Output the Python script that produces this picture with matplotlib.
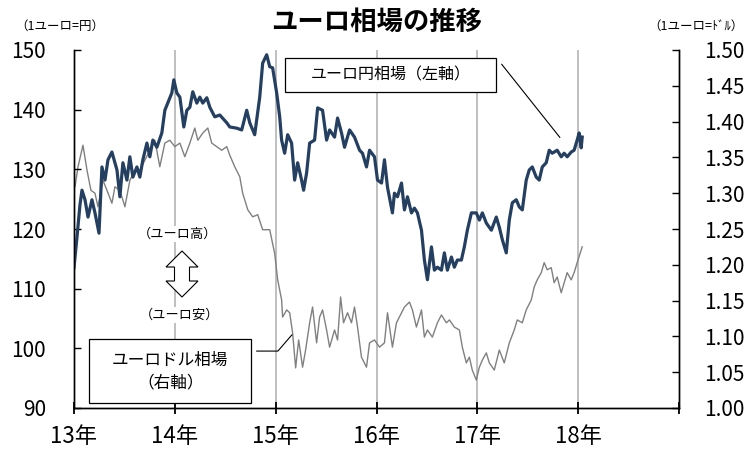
import matplotlib
matplotlib.use("Agg")
import matplotlib.pyplot as plt
from matplotlib.patches import Rectangle, Polygon
from matplotlib.lines import Line2D

plt.rcParams['font.family'] = ['Noto Sans CJK JP', 'DejaVu Sans']

# ---- data (decimal year, value) ----
jpy_dates = [2013.000, 2013.030, 2013.059, 2013.079, 2013.109, 2013.139, 2013.178, 2013.208, 2013.248, 2013.277,
             2013.307, 2013.337, 2013.376, 2013.426, 2013.455, 2013.485, 2013.525, 2013.554, 2013.584, 2013.624,
             2013.653, 2013.683, 2013.723, 2013.752, 2013.782, 2013.822, 2013.871, 2013.901, 2013.941, 2013.970,
             2013.990, 2014.020, 2014.050, 2014.089, 2014.119, 2014.149, 2014.178, 2014.218, 2014.248, 2014.277,
             2014.317, 2014.347, 2014.396, 2014.446, 2014.515, 2014.545, 2014.614, 2014.663, 2014.713, 2014.743,
             2014.792, 2014.842, 2014.871, 2014.911, 2014.941, 2014.970, 2015.010, 2015.040, 2015.059, 2015.089,
             2015.119, 2015.158, 2015.188, 2015.218, 2015.257, 2015.277, 2015.307, 2015.337, 2015.386, 2015.416,
             2015.465, 2015.505, 2015.535, 2015.584, 2015.614, 2015.653, 2015.683, 2015.733, 2015.782, 2015.832,
             2015.861, 2015.901, 2015.931, 2015.980, 2016.010, 2016.050, 2016.079, 2016.109, 2016.158, 2016.178,
             2016.208, 2016.248, 2016.277, 2016.307, 2016.347, 2016.376, 2016.406, 2016.446, 2016.475, 2016.505,
             2016.545, 2016.574, 2016.604, 2016.644, 2016.673, 2016.703, 2016.743, 2016.772, 2016.802, 2016.842,
             2016.871, 2016.901, 2016.941, 2016.990, 2017.020, 2017.050, 2017.089, 2017.139, 2017.188, 2017.218,
             2017.248, 2017.287, 2017.317, 2017.347, 2017.386, 2017.416, 2017.446, 2017.485, 2017.515, 2017.545,
             2017.584, 2017.614, 2017.644, 2017.683, 2017.713, 2017.743, 2017.792, 2017.832, 2017.861, 2017.891,
             2017.931, 2017.960, 2017.990, 2018.010, 2018.030, 2018.040]
jpy_values = [113.5, 118.7, 124.0, 126.5, 124.9, 122.0, 124.9, 122.7, 119.3, 130.4,
              128.2, 131.6, 132.9, 129.9, 125.4, 131.1, 128.2, 132.1, 128.7, 130.4,
              128.7, 131.6, 134.4, 132.1, 134.9, 133.7, 136.1, 139.9, 141.6, 142.8,
              145.0, 142.8, 142.1, 137.1, 139.9, 140.4, 143.0, 141.1, 142.1, 141.1,
              142.0, 140.4, 138.8, 139.1, 137.8, 137.1, 136.9, 136.6, 139.9, 137.8,
              135.8, 142.1, 147.8, 149.2, 147.2, 147.0, 142.8, 138.8, 134.9, 132.7,
              135.8, 134.4, 128.2, 131.1, 128.2, 126.5, 129.4, 134.4, 134.9, 140.3,
              139.9, 134.9, 136.6, 135.4, 138.6, 136.1, 133.7, 136.6, 135.4, 133.2,
              132.7, 130.4, 133.2, 132.1, 128.2, 127.7, 131.6, 127.0, 122.7, 126.0,
              125.4, 127.7, 123.2, 125.4, 122.7, 123.5, 122.7, 119.8, 114.8, 111.5,
              117.0, 113.1, 113.6, 113.1, 116.0, 113.1, 115.3, 113.6, 114.8, 114.8,
              117.0, 119.8, 122.7, 122.7, 121.5, 122.7, 121.0, 119.8, 122.0, 120.3,
              118.2, 116.0, 121.5, 124.4, 124.9, 123.7, 123.2, 128.2, 129.9, 130.4,
              128.7, 128.2, 130.4, 131.1, 133.2, 132.7, 133.2, 132.1, 132.7, 132.1,
              132.9, 133.2, 134.9, 136.1, 133.6, 135.4]

usd_dates = [2013.000, 2013.010, 2013.040, 2013.089, 2013.129, 2013.168, 2013.208, 2013.238, 2013.287, 2013.327,
             2013.376, 2013.406, 2013.455, 2013.505, 2013.554, 2013.604, 2013.653, 2013.703, 2013.752, 2013.802,
             2013.851, 2013.901, 2013.950, 2014.000, 2014.050, 2014.099, 2014.149, 2014.198, 2014.228, 2014.277,
             2014.327, 2014.366, 2014.416, 2014.465, 2014.515, 2014.545, 2014.594, 2014.644, 2014.673, 2014.723,
             2014.772, 2014.822, 2014.871, 2014.941, 2014.990, 2015.020, 2015.059, 2015.069, 2015.109, 2015.139,
             2015.168, 2015.198, 2015.228, 2015.267, 2015.297, 2015.337, 2015.366, 2015.406, 2015.436, 2015.465,
             2015.505, 2015.535, 2015.584, 2015.614, 2015.644, 2015.673, 2015.713, 2015.752, 2015.782, 2015.812,
             2015.851, 2015.901, 2015.931, 2015.980, 2016.030, 2016.079, 2016.109, 2016.158, 2016.198, 2016.248,
             2016.277, 2016.327, 2016.356, 2016.396, 2016.446, 2016.475, 2016.505, 2016.554, 2016.604, 2016.644,
             2016.693, 2016.723, 2016.772, 2016.822, 2016.851, 2016.891, 2016.921, 2016.950, 2016.990, 2017.020,
             2017.050, 2017.089, 2017.119, 2017.168, 2017.218, 2017.267, 2017.317, 2017.366, 2017.396, 2017.446,
             2017.485, 2017.535, 2017.564, 2017.594, 2017.634, 2017.663, 2017.693, 2017.733, 2017.762, 2017.792,
             2017.832, 2017.861, 2017.891, 2017.931, 2017.960, 2017.990, 2018.030, 2018.040]
usd_values = [1.318, 1.309, 1.337, 1.367, 1.332, 1.304, 1.300, 1.281, 1.318, 1.304,
              1.286, 1.309, 1.304, 1.281, 1.318, 1.332, 1.332, 1.346, 1.360, 1.374,
              1.337, 1.370, 1.374, 1.365, 1.370, 1.351, 1.370, 1.391, 1.374, 1.384,
              1.391, 1.370, 1.365, 1.360, 1.365, 1.353, 1.337, 1.323, 1.300, 1.277,
              1.267, 1.270, 1.249, 1.249, 1.216, 1.179, 1.151, 1.127, 1.137, 1.133,
              1.105, 1.056, 1.095, 1.057, 1.081, 1.119, 1.141, 1.091, 1.127, 1.137,
              1.109, 1.085, 1.109, 1.095, 1.155, 1.119, 1.133, 1.119, 1.141, 1.113,
              1.071, 1.057, 1.091, 1.095, 1.085, 1.091, 1.133, 1.085, 1.119, 1.133,
              1.141, 1.148, 1.137, 1.113, 1.137, 1.099, 1.109, 1.099, 1.119, 1.130,
              1.119, 1.123, 1.113, 1.109, 1.085, 1.063, 1.071, 1.053, 1.039, 1.057,
              1.067, 1.077, 1.063, 1.053, 1.081, 1.063, 1.091, 1.109, 1.123, 1.119,
              1.137, 1.151, 1.169, 1.179, 1.189, 1.203, 1.193, 1.196, 1.175, 1.183,
              1.161, 1.175, 1.189, 1.179, 1.189, 1.203, 1.221, 1.225]

year_ticks = [2013, 2014, 2015, 2016, 2017, 2018, 2019]
year_labels = ['13年', '14年', '15年', '16年', '17年', '18年', '']
left_ticks = [90, 100, 110, 120, 130, 140, 150]
right_ticks = [1.00, 1.05, 1.10, 1.15, 1.20, 1.25, 1.30, 1.35, 1.40, 1.45, 1.50]

NAVY = '#243F60'
GRAY = '#808080'

fig = plt.figure(figsize=(7.47, 4.51), dpi=100)
ax = fig.add_axes([74/747, 1 - 408/451, 605/747, 358/451])
ax2 = ax.twinx()
ax.set_zorder(ax2.get_zorder() + 1)
ax.patch.set_visible(False)

# vertical gridlines
for yr in year_ticks[1:-1]:
    ax2.axvline(yr, color='#bfbfbf', lw=1.4, zorder=0)

ax2.plot(usd_dates, usd_values, color=GRAY, lw=1.0, zorder=2)
ax.plot(jpy_dates, jpy_values, color=NAVY, lw=2.3, zorder=2)

ax.set_xlim(2013, 2019)
ax.set_ylim(90, 150)
ax2.set_ylim(1.0, 1.5)
ax.set_xticks(year_ticks)
ax.set_xticklabels(year_labels)
ax.set_yticks(left_ticks)
ax.set_yticklabels([str(v) for v in left_ticks])
ax2.set_yticks(right_ticks)
ax2.set_yticklabels([f'{v:.2f}' for v in right_ticks])

for a in (ax, ax2):
    a.spines['top'].set_visible(False)
    for s in a.spines.values():
        s.set_color('black')
        s.set_linewidth(1.0)
ax.tick_params(axis='x', direction='inout', length=9, width=1.3, labelsize=16, pad=8)
ax.tick_params(axis='y', direction='in', length=5, width=1.0, labelsize=15, pad=20)
ax2.tick_params(axis='y', direction='in', length=5, width=1.0, labelsize=15, pad=18)
ax2.tick_params(axis='x', bottom=False, labelbottom=False)

# title and unit labels
fig.text(377/747, 1 - 22/451, 'ユーロ相場の推移', ha='center', va='center',
         fontsize=19, fontweight='bold')
fig.text(60/747, 1 - 26/451, '（1ユーロ=円）', ha='center', va='center', fontsize=9)
fig.text(696/747, 1 - 26/451, '（1ユーロ=ﾄﾞﾙ）', ha='center', va='center', fontsize=9)

# annotation box: EUR/JPY
ax.add_patch(Rectangle((0.349, 0.883), 0.348, 0.095, transform=ax.transAxes,
                       facecolor='white', edgecolor='black', lw=0.9, zorder=5))
ax.text(0.523, 0.930, 'ユーロ円相場（左軸）', transform=ax.transAxes, ha='center',
        va='center', fontsize=11.5, zorder=6)
ax.add_line(Line2D([0.707, 0.803], [0.960, 0.756], transform=ax.transAxes,
                   color='black', lw=0.8, zorder=5))

# annotation box: EUR/USD
ax.add_patch(Rectangle((0.025, 0.014), 0.268, 0.179, transform=ax.transAxes,
                       facecolor='white', edgecolor='black', lw=0.9, zorder=5))
ax.text(0.159, 0.134, 'ユーロドル相場', transform=ax.transAxes, ha='center',
        va='center', fontsize=12, zorder=6)
ax.text(0.159, 0.070, '（右軸）', transform=ax.transAxes, ha='center',
        va='center', fontsize=12, zorder=6)
ax.add_line(Line2D([0.302, 0.337, 0.360], [0.159, 0.159, 0.204], transform=ax.transAxes,
                   color='black', lw=0.8, zorder=5))

# euro high / low markers
ax.text(0.172, 0.486, '（ユーロ高）', transform=ax.transAxes, ha='center', va='center',
        fontsize=9.5, zorder=6, bbox=dict(facecolor='white', edgecolor='none', pad=1))
ax.text(0.175, 0.260, '（ユーロ安）', transform=ax.transAxes, ha='center', va='center',
        fontsize=9.5, zorder=6, bbox=dict(facecolor='white', edgecolor='none', pad=1))
cx, cy = (182 - 74) / 605, (408 - 274) / 358
arrow_px = [(0, -23), (16, -7), (7.5, -7), (7.5, 7), (16, 7), (0, 23),
            (-16, 7), (-7.5, 7), (-7.5, -7), (-16, -7)]
pts = [(cx + dx / 605, cy - dy / 358) for dx, dy in arrow_px]
ax.add_patch(Polygon(pts, closed=True, transform=ax.transAxes, facecolor='white',
                     edgecolor='black', lw=0.8, zorder=6))

fig.savefig('out.png', dpi=100)
